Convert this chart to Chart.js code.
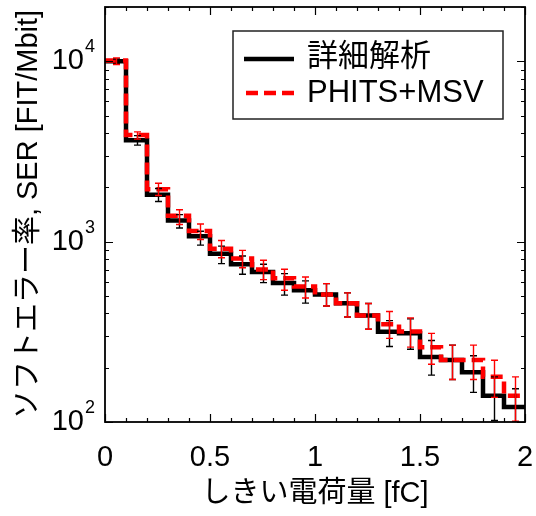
<!DOCTYPE html>
<html>
<head>
<meta charset="utf-8">
<script src="https://cdn.jsdelivr.net/npm/chart.js@4/dist/chart.umd.min.js"></script>
<style>
html,body{margin:0;padding:0;background:#fff;}
#wrap{width:536px;height:516px;}
</style>
</head>
<body>
<div id="wrap"><canvas id="c" width="536" height="516"></canvas></div>
<script>
// bin left edges [fC] (bin width 0.1)
const binEdges = [0.0,0.1,0.2,0.3,0.4,0.5,0.6,0.7,0.8,0.9,1.0,1.1,1.2,1.3,1.4,1.5,1.6,1.7,1.8,1.9];
const binEnd = 2.0;
// 詳細解析
const detailed     = [10000,3650,1820,1310,1073,857,749,679,589,538,509,455,390,317,311,229,221,189,140,121];
const detailedLow  = [9700,3430,1670,1191,957,755,660,593,505,456,440,382,327,262,253,182,172,146,102,89];
const detailedHigh = [10300,3870,1970,1412,1143,944,832,749,665,606,585,520,454,365,373,283,267,233,178,153];
// PHITS+MSV
const phits     = [10100,3900,1955,1393,1147,913,807,700,627,564,509,455,390,348,318,260,221,221,178,140];
const phitsLow  = [9600,3703,1804,1244,1028,814,717,616,538,487,440,382,327,291,260,209,172,172,137,101];
const phitsHigh = [10450,4063,2109,1504,1253,1015,894,788,703,637,585,520,454,410,378,310,267,267,220,178];
// axis ticks
const xTickLabels = [0,0.5,1,1.5,2];
const yMajor = [100,1000,10000];
const seriesNames = ['詳細解析','PHITS+MSV'];
const xTitle = 'しきい電荷量 [fC]';
const yTitle = 'ソフトエラー率, SER [FIT/Mbit]';

const FONT = "'Liberation Sans', Arial, 'Noto Sans CJK JP', sans-serif";

function stepPoints(vals){
  const pts = binEdges.map((e,i)=>({x:e,y:vals[i]}));
  pts.push({x:binEnd,y:vals[vals.length-1]});
  return pts;
}

const deco = {
  id:'deco',
  afterDatasetsDraw(chart){
    const {ctx, chartArea:a, scales:{x,y}} = chart;
    ctx.save();
    ctx.beginPath(); ctx.rect(a.left,a.top,a.right-a.left,a.bottom-a.top); ctx.clip();
    const bars = (lo,hi,col)=>{
      ctx.strokeStyle=col; ctx.lineWidth=1.4;
      binEdges.forEach((e,i)=>{
        const cx = Math.round(x.getPixelForValue(e+0.05))+0.5;
        const y1 = y.getPixelForValue(lo[i]), y2 = y.getPixelForValue(hi[i]);
        ctx.beginPath();
        ctx.moveTo(cx,y1); ctx.lineTo(cx,y2);
        ctx.moveTo(cx-3.5,y1); ctx.lineTo(cx+3.5,y1);
        ctx.moveTo(cx-3.5,y2); ctx.lineTo(cx+3.5,y2);
        ctx.stroke();
      });
    };
    bars(detailedLow,detailedHigh,'#000');
    bars(phitsLow,phitsHigh,'#ff0000');
    ctx.restore();

    // ticks (inward) on all four sides
    ctx.save();
    ctx.strokeStyle='#000'; ctx.lineWidth=1.2;
    ctx.beginPath();
    for(let k=0;k<=20;k++){
      const v=k/10, px=Math.round(x.getPixelForValue(v))+0.5;
      const L = (k%5===0)?8:4;
      ctx.moveTo(px,a.bottom); ctx.lineTo(px,a.bottom-L);
      ctx.moveTo(px,a.top); ctx.lineTo(px,a.top+L);
    }
    for(let d=100; d<=10000; d*=10){
      for(let m=1;m<=9;m++){
        const v=d*m; if(v>y.max) break;
        const py=Math.round(y.getPixelForValue(v))+0.5;
        const L=(m===1)?8:4;
        ctx.moveTo(a.left,py); ctx.lineTo(a.left+L,py);
        ctx.moveTo(a.right,py); ctx.lineTo(a.right-L,py);
      }
    }
    ctx.stroke();
    // frame
    ctx.lineWidth=1.8;
    ctx.strokeRect(a.left,a.top,a.right-a.left,a.bottom-a.top);
    ctx.restore();

    // y tick labels 10^n
    ctx.save();
    ctx.fillStyle='#000';
    yMajor.forEach(v=>{
      const py=y.getPixelForValue(v);
      const exp=String(Math.round(Math.log10(v)));
      ctx.font='18px '+FONT; ctx.textAlign='left'; ctx.textBaseline='alphabetic';
      const ew=ctx.measureText(exp).width;
      const ex = a.left-10-ew;
      ctx.fillText(exp, ex, py-9);
      ctx.font='29px '+FONT; ctx.textAlign='right';
      ctx.fillText('10', ex-1, py+8);
    });
    ctx.restore();

    // legend
    ctx.save();
    const lx=233, ly=31, lw=270, lh=88;
    ctx.fillStyle='#fff'; ctx.fillRect(lx,ly,lw,lh);
    ctx.strokeStyle='#222'; ctx.lineWidth=1.5; ctx.strokeRect(lx,ly,lw,lh);
    ctx.lineWidth=4.5; ctx.lineCap='butt';
    ctx.strokeStyle='#000'; ctx.setLineDash([]);
    ctx.beginPath(); ctx.moveTo(244,59); ctx.lineTo(294,59); ctx.stroke();
    ctx.strokeStyle='#ff0000'; ctx.setLineDash([12,6]);
    ctx.beginPath(); ctx.moveTo(246,93); ctx.lineTo(294,93); ctx.stroke();
    ctx.setLineDash([]);
    ctx.fillStyle='#000'; ctx.textAlign='left'; ctx.textBaseline='middle';
    ctx.font='31px '+FONT;
    ctx.fillText(seriesNames[0], 307, 57);
    ctx.fillText(seriesNames[1], 307, 93);
    ctx.restore();
  }
};

new Chart(document.getElementById('c'), {
  type:'line',
  data:{
    datasets:[
      {label:seriesNames[1], data:stepPoints(phits), borderColor:'#ff0000', borderWidth:4.5,
       borderDash:[12,6], stepped:true, pointRadius:0, fill:false, order:0},
      {label:seriesNames[0], data:stepPoints(detailed), borderColor:'#000', borderWidth:4.5,
       stepped:true, pointRadius:0, fill:false, order:1}
    ]
  },
  options:{
    responsive:false, animation:false, devicePixelRatio:1,
    layout:{padding:{top:7,right:11,left:0,bottom:0}},
    plugins:{legend:{display:false}, tooltip:{enabled:false}},
    scales:{
      x:{type:'linear', min:0, max:2,
         afterFit(s){ s.height=94; s.paddingLeft=0; s.paddingRight=0; },
         afterBuildTicks(s){ s.ticks = xTickLabels.map(v=>({value:v})); },
         grid:{display:false}, border:{display:false},
         ticks:{color:'#000', padding:11, maxRotation:0, autoSkip:false,
                callback:(v)=>String(v), font:{family:FONT, size:29}},
         title:{display:true, text:xTitle, color:'#000', padding:{top:0,bottom:5}, font:{family:FONT, size:29}}
      },
      y:{type:'logarithmic', min:100, max:20000,
         afterFit(s){ s.width=105; s.paddingTop=0; s.paddingBottom=0; },
         grid:{display:false}, border:{display:false},
         ticks:{display:false},
         title:{display:true, text:yTitle, color:'#000', padding:{top:12,bottom:0}, font:{family:FONT, size:29}}
      }
    }
  },
  plugins:[deco]
});
</script>
</body>
</html>
